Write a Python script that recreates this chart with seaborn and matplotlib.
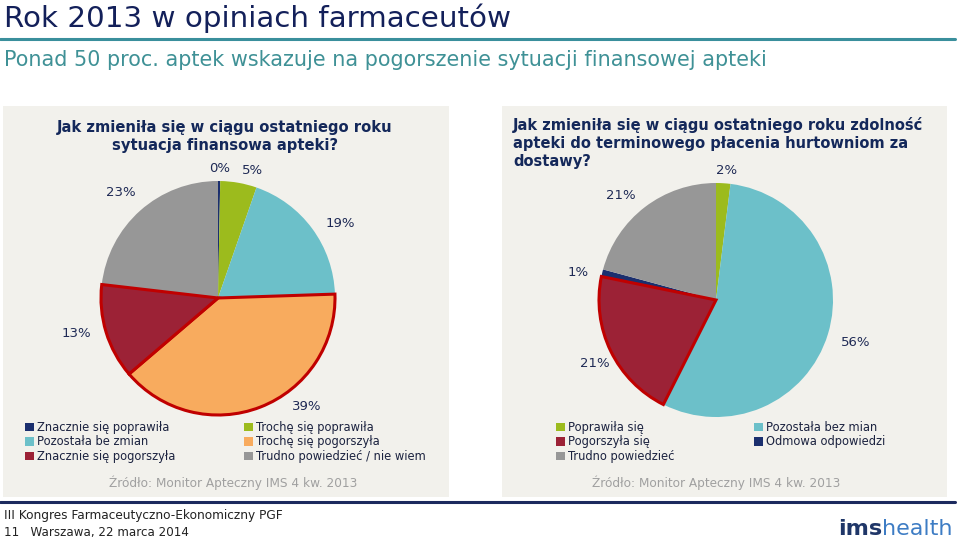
import numpy as np
import matplotlib
matplotlib.use('Agg')
import matplotlib.pyplot as plt
import seaborn as sns
from matplotlib.patches import Patch, Rectangle
from matplotlib.lines import Line2D
from matplotlib import font_manager

sns.set_theme(style='white')
plt.rcParams['font.family'] = ['DejaVu Sans']

# ---- data ----
fin_labels = ['Znacznie się poprawiła', 'Trochę się poprawiła', 'Pozostała be zmian',
              'Trochę się pogorszyła', 'Znacznie się pogorszyła', 'Trudno powiedzieć / nie wiem']
fin_values = [0.3, 5, 19, 39, 13, 23]
fin_text = ['0%', '5%', '19%', '39%', '13%', '23%']

pay_labels = ['Poprawiła się', 'Pozostała bez mian', 'Pogorszyła się',
              'Odmowa odpowiedzi', 'Trudno powiedzieć']
pay_values = [2, 56, 21, 1, 21]
pay_text = ['2%', '56%', '21%', '1%', '21%']

fin_title = ['Jak zmieniła się w ciągu ostatniego roku', 'sytuacja finansowa apteki?']
pay_title = ['Jak zmieniła się w ciągu ostatniego roku zdolność',
             'apteki do terminowego płacenia hurtowniom za', 'dostawy?']

# colours
navy = '#1b2f6e'
green = '#9cbb1d'
teal = '#6cc0c9'
orange = '#f8ab5e'
darkred = '#9c2236'
gray = '#979797'
red_edge = '#c00000'
fin_colors = sns.color_palette([navy, green, teal, orange, darkred, gray])
pay_colors = sns.color_palette([green, teal, darkred, navy, gray])
fin_edge = [False, False, False, True, True, False]
pay_edge = [False, False, True, False, False]

# label placement (distance in radii, angle shift in degrees)
fin_lab_d = [1.11, 1.13, 1.22, 1.2, 1.25, 1.23]
fin_lab_shift = [0, -5, -5, 18, -3, 1]
pay_lab_d = [1.11, 1.25, 1.17, 1.2, 1.21]
pay_lab_shift = [-1, 0, 2, 2, 5]

W, H = 960, 539
fig = plt.figure(figsize=(9.6, 5.39), dpi=100)
fig.patch.set_facecolor('white')

names = {f.name for f in font_manager.fontManager.ttflist}
narrow = next((n for n in ['Liberation Sans Narrow', 'DejaVu Sans Condensed'] if n in names), 'DejaVu Sans')


def fx(x):
    return x / W


def fy(y):
    return 1 - y / H


def fit(t, width_px):
    r = fig.canvas.get_renderer()
    bb = t.get_window_extent(r)
    t.set_fontsize(t.get_fontsize() * width_px / bb.width)


# header
title = fig.text(fx(4), fy(27), 'Rok 2013 w opiniach farmaceutów', fontsize=20,
                 color='#13205a', family=narrow, va='baseline')
fit(title, 508)
fig.add_artist(Line2D([0, fx(955)], [fy(39), fy(39)], color='#3a8f9c', lw=2.2))
sub = fig.text(fx(4), fy(66), 'Ponad 50 proc. aptek wskazuje na pogorszenie sytuacji finansowej apteki',
               fontsize=13, color='#3f9196', family=narrow, va='baseline')
fit(sub, 761)

# panels
panel = '#f2f1ec'
fig.add_artist(Rectangle((fx(3), fy(497)), (449 - 3) / W, (497 - 106) / H,
                         transform=fig.transFigure, facecolor=panel, edgecolor='none', zorder=-1))
fig.add_artist(Rectangle((fx(502), fy(497)), (947 - 502) / W, (497 - 106) / H,
                         transform=fig.transFigure, facecolor=panel, edgecolor='none', zorder=-1))


def draw_pie(cx, cy, r, values, colors, edges, texts, dists, shifts):
    lim = 1.35
    ax = fig.add_axes([fx(cx - lim * r), fy(cy + lim * r), 2 * lim * r / W, 2 * lim * r / H])
    wedges, _ = ax.pie(values, colors=colors, startangle=90, counterclock=False,
                       wedgeprops=dict(linewidth=0))
    for w, e in zip(wedges, edges):
        if e:
            w.set_edgecolor(red_edge)
            w.set_linewidth(2.2)
            w.set_zorder(3)
    for w, t, d, s in zip(wedges, texts, dists, shifts):
        ang = np.deg2rad((w.theta1 + w.theta2) / 2 + s)
        ax.text(d * np.cos(ang), d * np.sin(ang), t, ha='center', va='center',
                fontsize=9.5, color='#1f2a55')
    ax.set_xlim(-lim, lim)
    ax.set_ylim(-lim, lim)
    ax.set_aspect('equal')
    ax.axis('off')
    ax.patch.set_alpha(0)
    return ax


draw_pie(218, 298, 117, fin_values, fin_colors, fin_edge, fin_text, fin_lab_d, fin_lab_shift)
draw_pie(716, 300, 117, pay_values, pay_colors, pay_edge, pay_text, pay_lab_d, pay_lab_shift)

# chart titles, one text per line
for i, line in enumerate(fin_title):
    fig.text(fx(225), fy(132 + 18 * i), line, ha='center', va='baseline', fontsize=10.6,
             fontweight='bold', color='#14285a')
for i, line in enumerate(pay_title):
    fig.text(fx(513), fy(130 + 18 * i), line, ha='left', va='baseline', fontsize=10.5,
             fontweight='bold', color='#14285a')


# legends
def legend(labels, colors, x, y):
    handles = [Patch(facecolor=c, edgecolor='none') for c in colors]
    fig.legend(handles, labels, loc='upper left', bbox_to_anchor=(fx(x), fy(y)),
               frameon=False, borderpad=0, fontsize=8.3, handlelength=0.75, handleheight=0.75,
               handletextpad=0.3, labelspacing=0.12, labelcolor='#1c2340', borderaxespad=0)


fc = list(fin_colors)
legend([fin_labels[0], fin_labels[2], fin_labels[4]], [fc[0], fc[2], fc[4]], 25, 421)
legend([fin_labels[1], fin_labels[3], fin_labels[5]], [fc[1], fc[3], fc[5]], 244, 421)
pc = list(pay_colors)
legend([pay_labels[0], pay_labels[2], pay_labels[4]], [pc[0], pc[2], pc[4]], 556, 421)
legend([pay_labels[1], pay_labels[3]], [pc[1], pc[3]], 754, 421)

src = 'Źródło: Monitor Apteczny IMS 4 kw. 2013'
fig.text(fx(233), fy(487), src, ha='center', va='baseline', fontsize=8.7, color='#a0a0a0')
fig.text(fx(716), fy(487), src, ha='center', va='baseline', fontsize=8.7, color='#a0a0a0')

# footer
fig.add_artist(Line2D([0, fx(955)], [fy(502), fy(502)], color='#1c2a5e', lw=2.2))
f1 = fig.text(fx(4), fy(519), 'III Kongres Farmaceutyczno-Ekonomiczny PGF', fontsize=9,
              color='#222222', family=narrow, va='baseline')
fit(f1, 279)
f2 = fig.text(fx(4), fy(536), '11   Warszawa, 22 marca 2014', fontsize=9,
              color='#222222', family=narrow, va='baseline')
fit(f2, 185)

ims = fig.text(fx(838), fy(535), 'ims', fontsize=16, fontweight='bold', color='#1f3668',
               va='baseline')
bb = ims.get_window_extent(fig.canvas.get_renderer())
fig.text(bb.x1 / W, fy(535), 'health', fontsize=16, color='#3d7cc4', va='baseline')

fig.savefig('out.png', dpi=100)
